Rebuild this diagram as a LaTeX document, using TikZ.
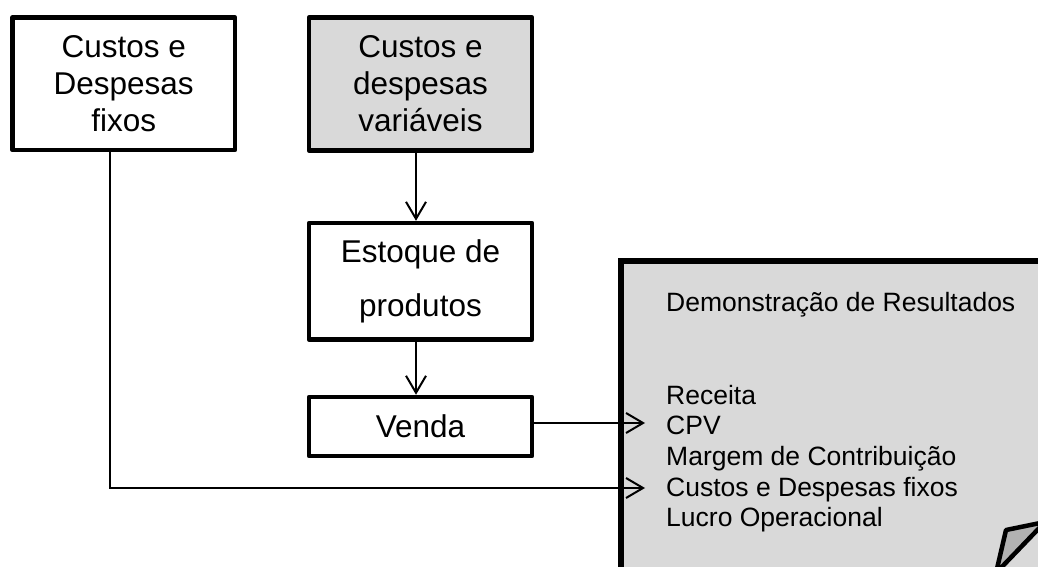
\documentclass[tikz,border=0pt]{standalone}
\usepackage{fontspec}
\setmainfont{Liberation Sans}
\usetikzlibrary{arrows.meta}
\definecolor{boxgray}{HTML}{D9D9D9}
\definecolor{foldgray}{HTML}{B2B2B2}
\begin{document}
\begin{tikzpicture}[x=1pt,y=-1pt,
  box/.style={draw, line width=4.5pt, align=center, inner sep=0pt, line join=round,
    font=\fontsize{31.5}{37}\selectfont},
  conn/.style={line width=2pt, -{Straight Barb[length=17pt,width=20pt]}},
  listtxt/.style={anchor=base west, inner sep=0pt, font=\fontsize{26.5}{30}\selectfont}]
\clip (0,0) rectangle (1038,567);
\fill[white] (0,0) rectangle (1038,567);
% boxes
\node[box, minimum width=222.5pt, minimum height=132.5pt] (fix) at (123.7,83.7) {Custos e\\Despesas\\fixos};
\node[box, fill=boxgray, minimum width=223pt, minimum height=133pt] (var) at (420.5,84) {Custos e\\despesas\\variáveis};
\node[box, minimum width=223pt, minimum height=116.5pt, font=\fontsize{31.5}{54}\selectfont] (est) at (420.5,281.3) {Estoque de\\produtos};
\node[box, minimum width=223pt, minimum height=59pt] (venda) at (420.5,426.5) {Venda};
% statement page
\node[draw, fill=boxgray, line width=6pt, anchor=north west, inner sep=0pt,
  minimum width=470pt, minimum height=370pt] (dr) at (618,258) {};
\draw[fill=foldgray, line width=4.5pt, line join=round] (1006,530) -- (1045,522) -- (996,573) -- cycle;
\node[listtxt] (title) at (666,311.7) {Demonstração de Resultados};
\node[listtxt] (rec) at (666,404) {Receita};
\node[listtxt] (cpv) at (666,434.7) {CPV};
\node[listtxt] (mc) at (666,465.4) {Margem de Contribuição};
\node[listtxt] (cdf) at (666,496.1) {Custos e Despesas fixos};
\node[listtxt] (lo) at (666,526.8) {Lucro Operacional};
\coordinate (cpvin) at (645,423);
\coordinate (cdfin) at (645,488);
% connectors
\draw[conn] ([xshift=-4.5pt]var.south) -- ([xshift=-4.5pt]est.north);
\draw[conn] ([xshift=-4.5pt]est.south) -- ([xshift=-4.5pt]venda.north);
\draw[conn] (venda.east |- cpvin) -- (cpvin);
\draw[conn] ([xshift=-13.7pt]fix.south) |- (cdfin);
\end{tikzpicture}
\end{document}
